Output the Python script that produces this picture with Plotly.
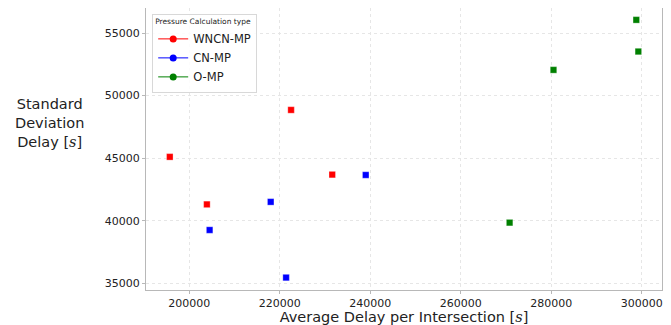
import plotly.graph_objects as go

series_names = ["WNCN-MP", "CN-MP", "O-MP"]
colors = ["#ff0000", "#0000ff", "#008000"]
wncn_x = [195700, 203900, 222500, 231600]
wncn_y = [45100, 41300, 48850, 43680]
cn_x = [204500, 218000, 239000, 221400]
cn_y = [39250, 41500, 43650, 35450]
o_x = [298800, 299250, 280500, 270800]
o_y = [56050, 53520, 52050, 39840]
xs = [wncn_x, cn_x, o_x]
ys = [wncn_y, cn_y, o_y]
x_ticks = [200000, 220000, 240000, 260000, 280000, 300000]
y_ticks = [35000, 40000, 45000, 50000, 55000]

FONT = "DejaVu Sans, sans-serif"
fig = go.Figure()
for name, c, x, y in zip(series_names, colors, xs, ys):
    fig.add_trace(go.Scatter(x=x, y=y, mode="markers", showlegend=False,
                             marker=dict(symbol="square", size=6.5, color=c,
                                         line=dict(color="rgba(255,255,255,0.6)", width=0.5))))
for name, c in zip(series_names, colors):
    fig.add_trace(go.Scatter(x=[None], y=[None], mode="lines+markers", name=name,
                             line=dict(color=c, width=1),
                             marker=dict(symbol="circle", size=7, color=c)))

axis_common = dict(showline=True, linecolor="#b8b8b8", linewidth=1, mirror=True,
                   showgrid=True, gridcolor="#e6e6e6", griddash="dot", gridwidth=1,
                   ticks="outside", ticklen=3, tickcolor="#b8b8b8", zeroline=False,
                   tickfont=dict(family=FONT, size=11, color="#222"), tickformat="d")

fig.update_layout(
    width=663, height=317,
    margin=dict(l=138, r=9, t=0, b=35),
    paper_bgcolor="white", plot_bgcolor="white",
    font=dict(family=FONT, color="#222"),
    xaxis=dict(range=[190440, 304480], tickvals=x_ticks,
               title=dict(text='Average Delay per Intersection [<span style="font-family:DejaVu Serif, serif"><i>s</i></span>]',
                          font=dict(size=14.5, family=FONT), standoff=1),
               **axis_common),
    yaxis=dict(range=[34456, 57000], tickvals=y_ticks, **axis_common),
    legend=dict(x=0.012, y=0.98, xanchor="left", yanchor="top",
                bgcolor="rgba(255,255,255,0.85)", bordercolor="#d8d8d8", borderwidth=1,
                font=dict(size=11.5, family=FONT),
                title=dict(text="Pressure Calculation type", font=dict(size=7.5, family=FONT)),
                itemwidth=30, tracegroupgap=0),
    annotations=[dict(
        text='Standard<br>Deviation<br>Delay [<span style="font-family:DejaVu Serif, serif"><i>s</i></span>]',
        xref="paper", yref="paper", x=-0.187, y=0.592, xanchor="center", yanchor="middle",
        showarrow=False, align="center", font=dict(size=14.5, family=FONT, color="#222"))]
)
fig.write_html("out.html")
